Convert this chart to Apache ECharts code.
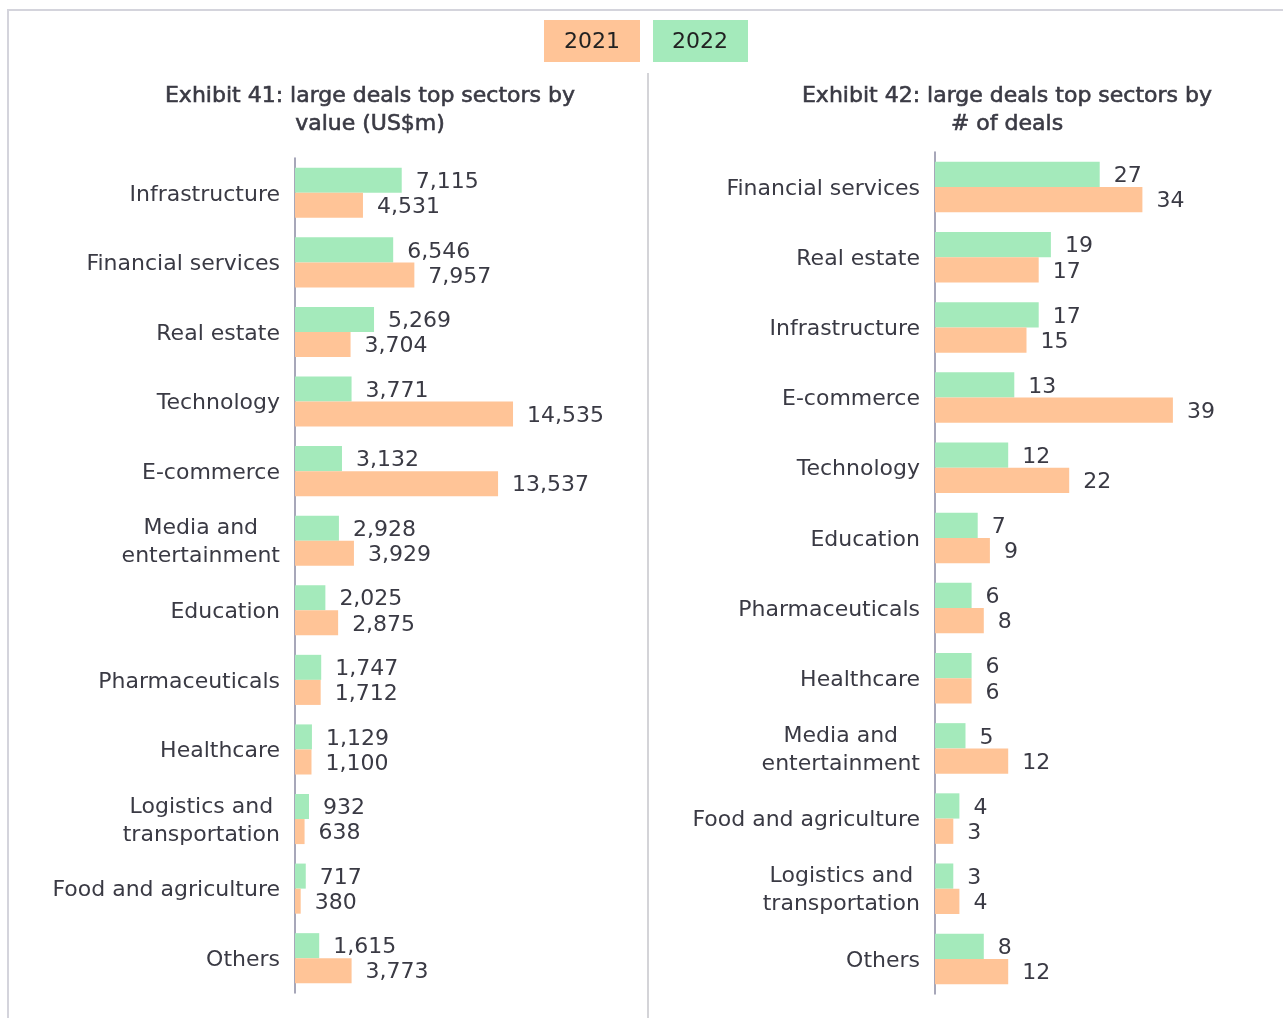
<!DOCTYPE html>
<html>
<head>
<meta charset="utf-8">
<script src="https://cdn.jsdelivr.net/npm/echarts@6/dist/echarts.min.js"></script>
<style>
  html, body { margin: 0; padding: 0; background: #fff; }
  #chart { width: 1283px; height: 1018px; }
</style>
</head>
<body>
<div id="chart"></div>
<script>
// left: large deals by value (US$m)
const valueSectors = ['Infrastructure', 'Financial services', 'Real estate', 'Technology', 'E-commerce',
  'Media and\nentertainment', 'Education', 'Pharmaceuticals', 'Healthcare',
  'Logistics and\ntransportation', 'Food and agriculture', 'Others']
const value2022 = [7115, 6546, 5269, 3771, 3132, 2928, 2025, 1747, 1129, 932, 717, 1615]
const value2021 = [4531, 7957, 3704, 14535, 13537, 3929, 2875, 1712, 1100, 638, 380, 3773]

// right: large deals by number of deals
const countSectors = ['Financial services', 'Real estate', 'Infrastructure', 'E-commerce', 'Technology',
  'Education', 'Pharmaceuticals', 'Healthcare', 'Media and\nentertainment', 'Food and agriculture',
  'Logistics and\ntransportation', 'Others']
const count2022 = [27, 19, 17, 13, 12, 7, 6, 6, 5, 4, 3, 8]
const count2021 = [34, 17, 15, 39, 22, 9, 8, 6, 12, 3, 4, 12]

const ORANGE = '#ffc497'
const GREEN = '#a4eabb'
const TEXT = '#3a3a44'
const FONT = 'DejaVu Sans'

const chart = echarts.init(document.getElementById('chart'))

// multi-line labels: lines centred inside a right-aligned block
const catLabel = v => v.split('\n').map(s => '{c|' + s + '}').join('\n')

const makeYAxis = (idx, data) => ({
  type: 'category',
  gridIndex: idx,
  inverse: true,
  data: data,
  axisLine: { lineStyle: { color: '#8a8aa2', width: 1.5 } },
  axisTick: { show: false },
  axisLabel: {
    color: TEXT, fontSize: 22, fontFamily: FONT, margin: 15,
    lineHeight: 28, formatter: catLabel,
    rich: { c: { align: 'center', color: TEXT, fontSize: 22, fontFamily: FONT, lineHeight: 28, padding: [4, 0, 0, 0] } }
  }
})

const makeXAxis = (idx, max) => ({
  type: 'value', gridIndex: idx, min: 0, max: max,
  axisLine: { show: false }, axisTick: { show: false },
  axisLabel: { show: false }, splitLine: { show: false }
})

const makeSeries = (name, idx, data, color) => ({
  name: name,
  type: 'bar',
  xAxisIndex: idx,
  yAxisIndex: idx,
  data: data,
  barGap: '0%',
  barCategoryGap: '28%',
  itemStyle: { color: color },
  label: {
    show: true, position: 'right', distance: 14, offset: [0, 2],
    color: TEXT, fontSize: 22, fontFamily: FONT,
    formatter: p => p.value.toLocaleString('en-US')
  }
})

const titleStyle = {
  color: TEXT, fontSize: 22, fontWeight: 'normal', fontFamily: FONT, lineHeight: 28,
  textBorderColor: TEXT, textBorderWidth: 0.6
}

chart.setOption({
  animation: false,
  title: [
    {
      text: 'Exhibit 41: large deals top sectors by\nvalue (US$m)',
      left: 365, top: 77, textAlign: 'center', textStyle: titleStyle
    },
    {
      text: 'Exhibit 42: large deals top sectors by\n# of deals',
      left: 1002, top: 77, textAlign: 'center', textStyle: titleStyle
    }
  ],
  grid: [
    { left: 295, top: 158, width: 300, height: 835 },
    { left: 935, top: 152, width: 305, height: 842 }
  ],
  xAxis: [makeXAxis(0, 20000), makeXAxis(1, 50)],
  yAxis: [makeYAxis(0, valueSectors), makeYAxis(1, countSectors)],
  series: [
    makeSeries('2022', 0, value2022, GREEN),
    makeSeries('2021', 0, value2021, ORANGE),
    makeSeries('2022', 1, count2022, GREEN),
    makeSeries('2021', 1, count2021, ORANGE)
  ],
  graphic: [
    // frame and divider
    { type: 'rect', shape: { x: 8, y: 10, width: 1400, height: 1200 },
      style: { fill: 'none', stroke: '#d4d4dc', lineWidth: 2 }, silent: true },
    { type: 'line', shape: { x1: 648, y1: 73, x2: 648, y2: 1018 },
      style: { stroke: '#d4d4d8', lineWidth: 2 }, silent: true },
    // legend boxes
    { type: 'rect', shape: { x: 544, y: 20, width: 96, height: 42 }, style: { fill: ORANGE } },
    { type: 'text', x: 592, y: 42, style: { text: '2021', fill: '#222', fontSize: 22, fontFamily: FONT,
      align: 'center', verticalAlign: 'middle' } },
    { type: 'rect', shape: { x: 653, y: 20, width: 95, height: 42 }, style: { fill: GREEN } },
    { type: 'text', x: 700, y: 42, style: { text: '2022', fill: '#222', fontSize: 22, fontFamily: FONT,
      align: 'center', verticalAlign: 'middle' } }
  ]
})
</script>
</body>
</html>
